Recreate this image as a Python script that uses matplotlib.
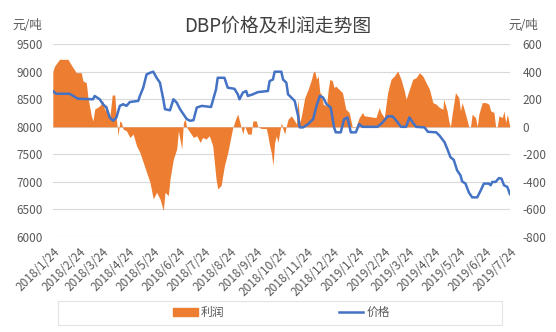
import datetime as dt
import matplotlib
matplotlib.use("Agg")
import matplotlib.pyplot as plt
import matplotlib.dates as mdates
from matplotlib.patches import Rectangle
from matplotlib.lines import Line2D

plt.rcParams['font.family'] = ['Noto Sans CJK SC', 'DejaVu Sans']
plt.rcParams['axes.unicode_minus'] = False

START = dt.date(2018, 1, 24)

# 价格 (元/吨), x = 距 2018/1/24 的天数
price_days = [0, 4, 20, 30, 48, 50, 56, 60, 64, 68, 72, 76, 80, 84, 88, 92, 102, 104,
              108, 112, 116, 120, 124, 128, 132, 134, 140, 144, 148, 152, 156, 160, 164,
              168, 172, 178, 189, 195, 197, 205, 209, 217, 221, 223, 227, 231, 233, 239,
              245, 257, 259, 263, 265, 273, 275, 279, 281, 285, 289, 293, 295, 299, 305,
              311, 315, 319, 323, 327, 332, 336, 338, 344, 348, 352, 356, 362, 366, 370,
              388, 394, 400, 406, 412, 416, 422, 426, 430, 434, 444, 448, 458, 462, 468,
              472, 475, 479, 483, 487, 489, 493, 497, 501, 507, 511, 515, 521, 523, 525,
              529, 533, 536, 539, 543, 546]
price_values = [8650, 8600, 8600, 8510, 8500, 8560, 8500, 8410, 8350, 8170, 8110, 8170,
                8380, 8410, 8380, 8450, 8470, 8560, 8710, 8950, 8980, 9000, 8890, 8800,
                8500, 8320, 8300, 8500, 8440, 8320, 8230, 8140, 8110, 8120, 8350, 8380,
                8360, 8680, 8890, 8890, 8710, 8690, 8590, 8500, 8620, 8650, 8560, 8590,
                8630, 8650, 8830, 8860, 9000, 9000, 8860, 8800, 8590, 8530, 8470, 8200,
                7990, 7990, 8050, 8140, 8380, 8560, 8530, 8410, 8350, 7990, 7900, 7900,
                8140, 8170, 7900, 7900, 8050, 8000, 8000, 8080, 8190, 8190, 8080, 8000,
                8000, 8170, 8080, 8000, 7990, 7910, 7900, 7840, 7720, 7570, 7450, 7400,
                7210, 7120, 7010, 6970, 6810, 6720, 6720, 6840, 6970, 6970, 6940, 7000,
                7000, 7070, 7060, 6940, 6910, 6780]

# 利润 (元/吨)
profit_days = [0, 2, 8, 18, 22, 28, 34, 36, 40, 42, 46, 48, 50, 56, 60, 62, 64, 68, 71,
               74, 76, 78, 80, 82, 84, 88, 92, 96, 100, 104, 108, 112, 116, 120, 124, 128,
               132, 134, 138, 140, 144, 148, 150, 154, 156, 158, 160, 164, 168, 172, 176,
               179, 183, 187, 191, 195, 197, 201, 205, 209, 213, 215, 219, 221, 223, 225,
               227, 229, 233, 237, 239, 243, 245, 249, 255, 257, 259, 261, 263, 265, 267,
               269, 273, 275, 277, 279, 281, 285, 289, 291, 293, 295, 297, 301, 305, 309,
               311, 313, 315, 317, 319, 321, 323, 327, 329, 331, 334, 336, 338, 342, 346,
               350, 354, 358, 362, 366, 370, 372, 386, 390, 392, 396, 400, 404, 408, 412,
               416, 420, 422, 426, 430, 434, 438, 442, 446, 450, 454, 458, 462, 466, 467,
               471, 473, 475, 477, 481, 485, 487, 489, 493, 497, 499, 501, 505, 507, 509,
               513, 517, 521, 523, 527, 529, 531, 533, 537, 539, 541, 543, 546]
profit_values = [400, 440, 490, 490, 450, 393, 393, 333, 320, 212, 80, 43, 128, 152, 188,
                 116, 164, 67, 231, 231, 55, -65, 43, 31, -17, -29, -77, -53, -137, -186,
                 -258, -330, -402, -523, -475, -523, -607, -475, -499, -378, -234, -161,
                 -29, -161, 31, 55, -5, -41, -77, -65, -113, -77, -89, -65, -137, -378,
                 -450, -426, -282, -186, -65, -5, 67, 92, 43, -5, -53, 7, -53, -53, 43,
                 43, 0, -12, -12, -65, -137, -186, -282, -113, -65, -113, 31, -17, -53,
                 7, 55, 80, 43, 19, 200, 31, 80, 212, 272, 345, 393, 405, 345, 369, 248,
                 236, 164, 152, 272, 345, 333, 284, 296, 272, 248, 128, 104, -5, 0, 67,
                 104, 80, 67, 140, 104, 67, 248, 345, 369, 405, 345, 260, 200, 272, 345,
                 357, 393, 369, 320, 272, 176, 164, 140, 128, 200, 116, 43, 0, 92, 248,
                 212, 116, 176, 92, 0, 2, 92, 67, 2, 92, 176, 176, 164, 116, 104, 0, 2,
                 80, 67, 116, 31, 92, 0]

tick_labels = ['2018/1/24', '2018/2/24', '2018/3/24', '2018/4/24', '2018/5/24',
               '2018/6/24', '2018/7/24', '2018/8/24', '2018/9/24', '2018/10/24',
               '2018/11/24', '2018/12/24', '2019/1/24', '2019/2/24', '2019/3/24',
               '2019/4/24', '2019/5/24', '2019/6/24', '2019/7/24']

ORANGE = '#ED7D31'
BLUE = '#4472C4'
TEXT = '#595959'

price_dates = [START + dt.timedelta(days=d) for d in price_days]
profit_dates = [START + dt.timedelta(days=d) for d in profit_days]
tick_dates = [dt.datetime.strptime(s, '%Y/%m/%d').date() for s in tick_labels]

fig = plt.figure(figsize=(5.56, 3.32), dpi=100)
ax = fig.add_axes([0.095, 0.286, 0.822, 0.581])
ax2 = ax.twinx()

# 利润面积图放在下层，价格折线放在上层
ax.set_zorder(ax2.get_zorder() + 1)
ax.patch.set_visible(False)

ax2.fill_between(profit_dates, 0, profit_values, color=ORANGE, linewidth=0)
ax2.set_ylim(-800, 600)
ax2.set_yticks(range(-800, 601, 200))
ax2.grid(axis='y', color='#D9D9D9', linewidth=0.8)
ax2.set_axisbelow(True)

ax.plot(price_dates, price_values, color=BLUE, linewidth=1.8)
ax.set_ylim(6000, 9500)
ax.set_yticks(range(6000, 9501, 500))

ax.set_xlim(tick_dates[0], tick_dates[-1])
ax.set_xticks(tick_dates)
ax.set_xticklabels(tick_labels, rotation=45, ha='right', rotation_mode='anchor')

for a in (ax, ax2):
    for sp in a.spines.values():
        sp.set_visible(False)
    a.tick_params(length=0, labelsize=8.5, labelcolor=TEXT)
ax.tick_params(axis='y', pad=7)
ax.tick_params(axis='x', pad=6)
ax2.tick_params(axis='y', pad=9)

fig.text(0.5, 0.922, 'DBP价格及利润走势图', ha='center', va='center',
         fontsize=13.5, color='#404040')
fig.text(0.023, 0.922, '元/吨', ha='left', va='center', fontsize=9, color=TEXT)
fig.text(0.915, 0.922, '元/吨', ha='left', va='center', fontsize=9, color=TEXT)

# 图例外框
fig.add_artist(Rectangle((0.104, 0.022), 0.798, 0.072, transform=fig.transFigure,
                         facecolor='none', edgecolor='#E3E3E3', linewidth=0.8))
handles = [Rectangle((0, 0), 1, 1, color=ORANGE),
           Line2D([], [], color=BLUE, linewidth=1.8)]
fig.legend(handles, ['利润', '价格'], loc='center', bbox_to_anchor=(0.506, 0.058),
           ncol=2, frameon=False, fontsize=8.5, handlelength=2.1,
           handletextpad=0.25, columnspacing=9.7, labelcolor=TEXT)

fig.savefig('out.png', dpi=100)
